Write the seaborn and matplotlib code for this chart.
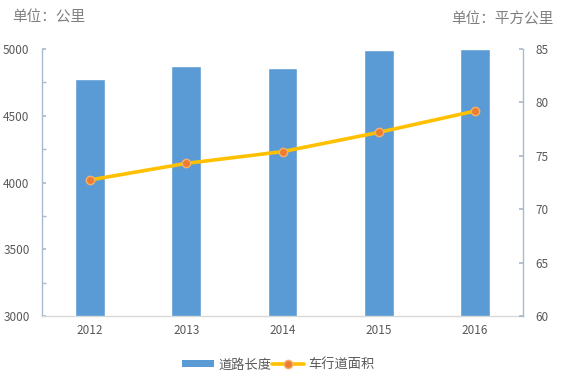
"""Road length (bars) vs carriageway area (line), 2012-2016."""

import matplotlib
matplotlib.use("Agg")
import matplotlib.pyplot as plt
from matplotlib.lines import Line2D
from matplotlib.patches import Patch
from matplotlib.ticker import MultipleLocator
import seaborn as sns

sns.set_theme(style="white")
plt.rcParams['font.family'] = ['Noto Sans CJK SC', 'DejaVu Sans']

# data
years = ["2012", "2013", "2014", "2015", "2016"]
road_length = [4775, 4870, 4855, 4990, 5003]      # 公里
lane_area = [72.75, 74.3, 75.4, 77.2, 79.2]       # 平方公里

BLUE = "#5B9BD5"
YELLOW = "#FFC000"
ORANGE = "#ED7D31"
TEXT = "#595959"
SPINE = "#A9B9D0"

fig = plt.figure(figsize=(5.68, 3.8), dpi=100)
ax = fig.add_axes([0.074, 0.168, 0.847, 0.703])

sns.barplot(x=years, y=road_length, color=BLUE, saturation=1, width=0.31, ax=ax)
ax.set_ylim(3000, 5000)
ax.set_xlim(-0.5, 4.5)
ax.set_xlabel("")
ax.set_ylabel("")

ax2 = ax.twinx()
sns.pointplot(x=years, y=lane_area, color=YELLOW, errorbar=None, ax=ax2)
for ln in ax2.lines:
    ln.set_linewidth(2.6)
    ln.set_marker("o")
    ln.set_markersize(6)
    ln.set_markerfacecolor(ORANGE)
    ln.set_markeredgecolor("#F6B26B")
    ln.set_markeredgewidth(1)
for coll in ax2.collections:
    coll.set_visible(False)
ax2.set_ylim(60, 85)
ax2.set_xlim(-0.5, 4.5)
ax2.set_ylabel("")

# spines
for a in (ax, ax2):
    a.spines["top"].set_visible(False)
ax.spines["right"].set_visible(False)
ax2.spines["left"].set_visible(False)
ax2.spines["bottom"].set_visible(False)
ax.spines["left"].set_color(SPINE)
ax2.spines["right"].set_color(SPINE)
ax.spines["bottom"].set_color("#D9D9D9")
for s in (ax.spines["left"], ax2.spines["right"], ax.spines["bottom"]):
    s.set_linewidth(1)

# ticks
ax.yaxis.set_major_locator(MultipleLocator(500))
ax.yaxis.set_minor_locator(MultipleLocator(250))
ax.tick_params(axis="y", which="both", direction="in", length=3, color=SPINE,
               labelsize=8.5, labelcolor=TEXT, pad=9, left=True)
ax2.yaxis.set_major_locator(MultipleLocator(5))
ax2.tick_params(axis="y", which="both", direction="in", length=3, color=SPINE,
                labelsize=8.5, labelcolor=TEXT, pad=9, right=True)
ax.set_xticks(range(len(years)))
ax.set_xticklabels(years)
ax.tick_params(axis="x", which="major", length=0, labelsize=8.5, labelcolor=TEXT, pad=6)
ax.set_xticks([i - 0.5 for i in range(len(years) + 1)], minor=True)
ax.tick_params(axis="x", which="minor", direction="out", length=4, color="#D9D9D9")

# unit labels
fig.text(0.021, 0.955, "单位：公里", fontsize=10.5, color="#7F7F7F", va="center")
fig.text(0.975, 0.948, "单位：平方公里", fontsize=10.5, color="#7F7F7F",
         va="center", ha="right")

handles = [
    Patch(facecolor=BLUE, edgecolor="none"),
    Line2D([0], [0], color=YELLOW, lw=2.6, marker="o", markersize=6,
           markerfacecolor=ORANGE, markeredgecolor="#F6B26B"),
]
fig.legend(handles, ["道路长度", "车行道面积"], loc="center", ncol=2,
           bbox_to_anchor=(0.49, 0.04), frameon=False, fontsize=9.5,
           labelcolor=TEXT, handlelength=2.4, handleheight=0.5,
           handletextpad=0.3, columnspacing=0.1)

fig.savefig("out.png", dpi=100)
